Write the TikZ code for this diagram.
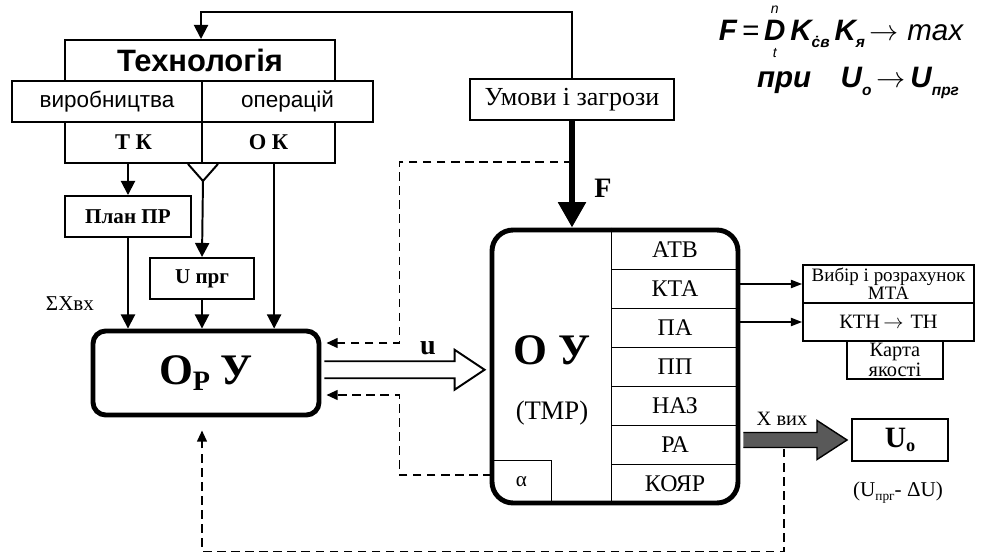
\documentclass[tikz,border=0pt]{standalone}
\usepackage{amsmath}
\usepackage{fontspec}
\setmainfont{Liberation Serif}
\newfontfamily\arialfont{Liberation Sans}
\usetikzlibrary{arrows.meta,calc}
\newcommand{\bnd}[1]{\hbox{\fontsize{10}{10}\selectfont\mdseries\itshape #1}}
\tikzset{
    sz/.style 2 args={minimum width=#1*0.025cm,minimum height=#2*0.025cm},
    blk/.style={draw,line width=1.4pt,inner sep=0pt,align=center},
    core/.style={blk,line width=3.5pt},
    txt/.style={font=\fontsize{#1}{#1}\selectfont},
    btxt/.style={font=\fontsize{#1}{#1}\selectfont\bfseries},
    stxt/.style={font=\fontsize{#1}{#1}\selectfont\arialfont},
    sbtxt/.style={font=\fontsize{#1}{#1}\selectfont\arialfont\bfseries}
}

\begin{document}
\begin{tikzpicture}[x=0.025cm,y=-0.025cm,
    arr/.style={line width=1.4pt,-{Triangle[length=10pt,width=10pt]}},
    fb/.style={line width=1.3pt,dash pattern=on 6pt off 4pt,-{Triangle[length=8pt,width=7pt]}},
    tap/.style={line width=0.8pt,-{Triangle[length=8pt,width=6pt]}}
  ]
    \useasboundingbox (0,0) rectangle (982,558);
    \node[blk,sz={270}{41},sbtxt=22] (tech) at (200,60.5) {Технологія};
    \node[blk,sz={190}{41},stxt=16] (prod) at (107,101.5) {виробництва};
    \node[blk,sz={171}{41},stxt=16] (oper) at (287.5,101.5) {операцій};
    \node[blk,sz={137}{41},btxt=16] (tk) at (133.5,142.5) {Т К};
    \node[blk,sz={133}{41},btxt=16] (ok) at (268.5,142.5) {О К};
    \node[blk,sz={126}{41},btxt=15] (plan) at (128,216.5) {План ПР};
    \node[blk,sz={104}{41},btxt=15] (uprg) at (202,278.5) {U прг};
    \node[txt=15] (sumx) at (70,304) {ΣXвх};
    \node[core,sz={226}{84},rounded corners=9pt,btxt=31] (opy) at (206,373)
      {O\raisebox{-0.3ex}{\fontsize{20}{20}\selectfont Р} У};
    \node[blk,sz={204}{41},txt=18.5] (umovy) at (572,99.5) {Умови і загрози};
    \node[core,sz={246}{273},rounded corners=15pt] (oy) at (615,366.5) {};
    \foreach \lbl [count=\i] in {АТВ,КТА,ПА,ПП,НАЗ,РА,КОЯР}
      \node[sz={126}{39},txt=17] (row\i) at (675,{210.5+39*\i}) {\lbl};
    \foreach \i in {1,...,6}
      \draw[line width=0.6pt] (row\i.south west) -- (row\i.south east);
    \draw[line width=0.8pt] (oy.north -| row1.west) -- (oy.south -| row1.west);
    \node[btxt=31] (oylbl) at (552,350) {О У};
    \node[txt=19] (tmr) at (552,413) {(ТМР)};
    \node[sz={59}{42},txt=15] (alpha) at (521.5,482) {α};
    \draw[line width=0.8pt] (alpha.north west) -- (alpha.north east) -- (alpha.south east);
    \node[btxt=20] (flbl) at (603,188) {F};
    \node[btxt=20] (ulbl) at (428,348) {u};
    \node[blk,sz={171}{38},font=\fontsize{13.5}{11.5}\selectfont] (vybir) at (888.5,284) {Вибір і розрахунок\\МТА};
    \node[blk,sz={171}{38},txt=14.5] (ktn) at (888.5,322) {КТН\,$\rightarrow$\,\,ТН};
    \node[blk,sz={96}{38},font=\fontsize{14.5}{12}\selectfont] (karta) at (895,360) {Карта\\якості};
    \node[blk,sz={96}{42},btxt=21] (uo) at (900,440) {U\raisebox{-0.3ex}{\fontsize{13}{13}\selectfont o}};
    \node[txt=14.5] (xvyh) at (782,419) {X вих};
    \node[txt=15] (udelta) at (898,493) {(U\raisebox{-0.4ex}{\fontsize{9.5}{9.5}\selectfont прг}- ΔU)};
    \node[sbtxt=21] (goal) at (841,32)
      {\itshape F\,{\mdseries =}\,$\mathop{\text{D}}\limits_{\bnd{t}}^{\bnd{n}}$\,K\raisebox{-0.5ex}{\fontsize{11}{11}\selectfont\.cв}\,%
       K\raisebox{-0.5ex}{\fontsize{11}{11}\selectfont я}\,{\mdseries $\rightarrow$ max}};
    \node[sbtxt=21] (cond) at (858,83)
      {\itshape при\quad U\raisebox{-0.5ex}{\fontsize{11}{11}\selectfont o}\,{\mdseries $\rightarrow$}\,U\raisebox{-0.5ex}{\fontsize{11}{11}\selectfont прг}};
    \draw[arr] (umovy.north) -- ++(0,-66) -| (tech.north -| oper.west);
    \draw[arr] (tk.south -| plan.north) -- (plan.north);
    \coordinate (fork) at ($(tk.south east)+(0,17)$);
    \draw[line width=1.4pt] ($(tk.south east)+(-15,0)$) -- (fork) -- ($(tk.south east)+(15,0)$);
    \draw[arr] (fork) -- (uprg.north);
    \coordinate (okout) at ([xshift=4pt]ok.south);
    \draw[arr] (okout) -- (okout |- opy.north);
    \draw[arr] (plan.south) -- (plan.south |- opy.north);
    \draw[arr] (uprg.south) -- (uprg.south |- opy.north);
    \draw[line width=4.2pt,-{Triangle[length=18pt,width=19pt]}] (umovy.south) -- (umovy.south |- oy.north);
    \coordinate (ftap) at (umovy.south |- 0,162);
    \draw[fb] (ftap) -| ($(opy.east)+(78,-30)$) -- ($(opy.east)+(5,-30)$);
    \draw[fb] ($(alpha.west)+(0,-7)$) -| ($(opy.east)+(78,22)$) -- ($(opy.east)+(5,22)$);
    \draw[fb] ($(uo.west)+(-67,9)$) |- ($(opy.south)+(-4,134)$) -- ($(opy.south)+(-4,13)$);
    \draw[tap] (oy.east |- vybir.west) -- (vybir.west);
    \draw[tap] (oy.east |- ktn.west) -- (ktn.west);
    \coordinate (uc) at ($(opy.east)!0.5!(oy.west)$);
    \draw[line width=1.4pt,fill=white] ($(opy.east |- uc)+(3,-8.5)$) -- ($(oy.west |- uc)+(-35,-8.5)$)
      -- ($(oy.west |- uc)+(-35,-20)$) -- ($(oy.west |- uc)+(-5,0)$) -- ($(oy.west |- uc)+(-35,20)$)
      -- ($(oy.west |- uc)+(-35,8.5)$) -- ($(opy.east |- uc)+(3,8.5)$);
    \draw[line width=1pt,fill=black!65] ($(oy.east |- uo.west)+(3,-7.5)$) -- ($(uo.west)+(-34,-7.5)$)
      -- ($(uo.west)+(-34,-19.5)$) -- ($(uo.west)+(-4,0)$) -- ($(uo.west)+(-34,19.5)$)
      -- ($(uo.west)+(-34,7.5)$) -- ($(oy.east |- uo.west)+(3,7.5)$);
  \end{tikzpicture}
\end{document}
